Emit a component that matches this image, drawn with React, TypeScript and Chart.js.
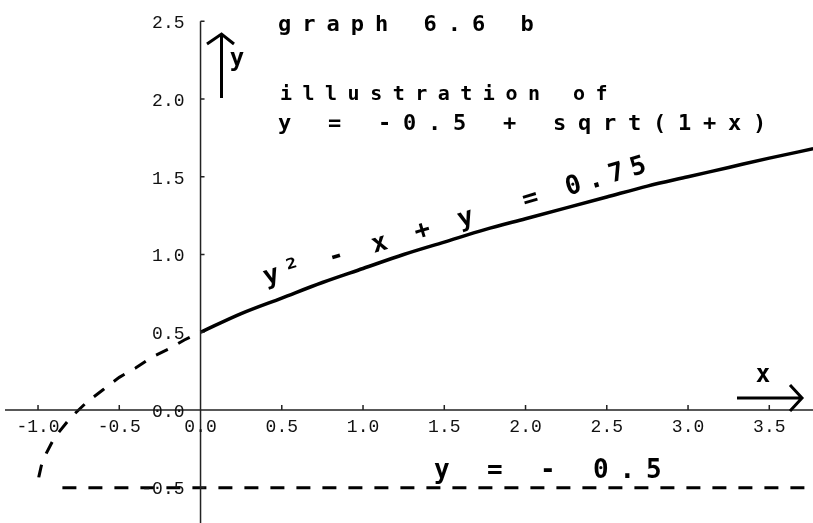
import React, { useEffect, useRef } from "react";
import { Chart, registerables } from "chart.js";

Chart.register(...registerables);

// Upper branch of y^2 - x + y = 0.75, drawn solid for x >= 0
const UPPER_X = [0, 0.25, 0.5, 0.75, 1.0, 1.25, 1.5, 1.75, 2.0, 2.25, 2.5, 2.75, 3.0, 3.25, 3.5, 3.77];
const UPPER_Y = [0.5, 0.62, 0.72, 0.82, 0.91, 1.0, 1.08, 1.16, 1.23, 1.3, 1.37, 1.44, 1.5, 1.56, 1.62, 1.68];

// The same branch continued (dashed) back to the vertex at x = -1
const LOWER_X = [0, -0.1, -0.2, -0.3, -0.4, -0.5, -0.6, -0.7, -0.8, -0.9, -0.95, -0.98, -0.995, -1.0];
const LOWER_Y = [0.5, 0.45, 0.39, 0.34, 0.27, 0.21, 0.13, 0.05, -0.05, -0.18, -0.28, -0.36, -0.43, -0.5];

// Horizontal line y = -0.5
const LEVEL_X = [-0.85, 3.8];
const LEVEL_Y = [-0.5, -0.5];

// Axis ticks
const X_TICKS = [-1.0, -0.5, 0.0, 0.5, 1.0, 1.5, 2.0, 2.5, 3.0, 3.5];
const Y_TICKS = [-0.5, 0.0, 0.5, 1.0, 1.5, 2.0, 2.5];

// Visible window
const X_RANGE = [-1.234, 3.769];
const Y_RANGE = [-0.727, 2.637];

// Text
const TITLE = "graph 6.6 b";
const CAPTION_1 = "illustration of";
const CAPTION_2 = "y = -0.5 + sqrt(1+x)";
const CURVE_LABEL = "y\u00b2 - x + y  = 0.75";
const LEVEL_LABEL = "y = - 0.5";

const MONO = '"DejaVu Sans Mono", "Liberation Mono", monospace';

function toPoints(xs: number[], ys: number[]) {
  return xs.map((x, i) => ({ x, y: ys[i] }));
}

function spacedText(
  ctx: CanvasRenderingContext2D,
  text: string,
  x: number,
  y: number,
  spacing: number
) {
  const c = ctx as any;
  if ("letterSpacing" in c) {
    c.letterSpacing = spacing + "px";
    ctx.fillText(text, x, y);
    c.letterSpacing = "0px";
  } else {
    let cx = x;
    for (const ch of text) {
      ctx.fillText(ch, cx, y);
      cx += ctx.measureText(ch).width + spacing;
    }
  }
}

const axesAndNotes = {
  id: "axesAndNotes",
  afterDatasetsDraw(chart: any) {
    const { ctx, scales } = chart;
    const sx = scales.x;
    const sy = scales.y;
    const x0 = sx.getPixelForValue(0);
    const y0 = sy.getPixelForValue(0);
    const yTop = sy.getPixelForValue(Y_TICKS[Y_TICKS.length - 1]);

    ctx.save();

    // axes through the origin
    ctx.strokeStyle = "#222";
    ctx.lineWidth = 1.5;
    ctx.beginPath();
    ctx.moveTo(sx.left + 5, y0);
    ctx.lineTo(sx.right, y0);
    ctx.moveTo(x0, yTop);
    ctx.lineTo(x0, sy.bottom);
    X_TICKS.forEach((v) => {
      const px = sx.getPixelForValue(v);
      ctx.moveTo(px, y0);
      ctx.lineTo(px, y0 - 5);
    });
    Y_TICKS.forEach((v) => {
      const py = sy.getPixelForValue(v);
      ctx.moveTo(x0, py);
      ctx.lineTo(x0 + 4, py);
    });
    ctx.stroke();

    // tick labels
    ctx.fillStyle = "#111";
    ctx.font = '18px "Liberation Mono", monospace';
    ctx.textBaseline = "middle";
    ctx.textAlign = "center";
    X_TICKS.forEach((v) => {
      ctx.fillText(v.toFixed(1), sx.getPixelForValue(v), y0 + 17);
    });
    ctx.textAlign = "right";
    Y_TICKS.forEach((v) => {
      ctx.fillText(v.toFixed(1), x0 - 16, sy.getPixelForValue(v) + 2);
    });

    // axis arrows
    ctx.strokeStyle = "#000";
    ctx.lineWidth = 3;
    ctx.beginPath();
    ctx.moveTo(221.5, 98);
    ctx.lineTo(221.5, 35);
    ctx.moveTo(207, 44);
    ctx.lineTo(221.5, 34);
    ctx.lineTo(234, 44);
    ctx.moveTo(737, 398);
    ctx.lineTo(802, 398);
    ctx.moveTo(790, 385);
    ctx.lineTo(802, 398);
    ctx.lineTo(790, 411);
    ctx.stroke();

    ctx.fillStyle = "#000";
    ctx.textBaseline = "alphabetic";
    ctx.textAlign = "center";
    ctx.font = "bold 24px " + MONO;
    ctx.fillText("y", 237, 66);
    ctx.fillText("x", 763, 382);

    // title and captions
    ctx.textAlign = "left";
    ctx.font = "bold 22px " + MONO;
    spacedText(ctx, TITLE, 278, 31, 11);
    ctx.font = "bold 20px " + MONO;
    spacedText(ctx, CAPTION_1, 280, 100, 10.5);
    ctx.font = "bold 22px " + MONO;
    spacedText(ctx, CAPTION_2, 278, 130, 11.75);

    // label for the horizontal line
    ctx.font = "bold 26px " + MONO;
    spacedText(ctx, LEVEL_LABEL, 434, 478, 10.85);

    // equation written along the curve
    ctx.save();
    ctx.translate(266, 285);
    ctx.rotate((-16.5 * Math.PI) / 180);
    ctx.font = "bold 26px " + MONO;
    spacedText(ctx, CURVE_LABEL, 0, 0, 6.85);
    ctx.restore();

    ctx.restore();
  },
};

export default function App() {
  const canvasRef = useRef<HTMLCanvasElement | null>(null);

  useEffect(() => {
    const canvas = canvasRef.current;
    if (!canvas) return;
    const chart = new Chart(canvas, {
      type: "scatter",
      data: {
        datasets: [
          {
            data: toPoints(UPPER_X, UPPER_Y),
            showLine: true,
            borderColor: "#000",
            borderWidth: 3.5,
            pointRadius: 0,
            cubicInterpolationMode: "monotone",
          },
          {
            data: toPoints(LOWER_X, LOWER_Y),
            showLine: true,
            borderColor: "#000",
            borderWidth: 3,
            borderDash: [13, 12],
            borderDashOffset: 13,
            pointRadius: 0,
            tension: 0,
          },
          {
            data: toPoints(LEVEL_X, LEVEL_Y),
            showLine: true,
            borderColor: "#000",
            borderWidth: 3,
            borderDash: [14, 12],
            pointRadius: 0,
          },
        ],
      },
      options: {
        responsive: false,
        animation: false,
        events: [],
        layout: { padding: 0 },
        plugins: {
          legend: { display: false },
          tooltip: { enabled: false },
        },
        scales: {
          x: {
            type: "linear",
            min: X_RANGE[0],
            max: X_RANGE[1],
            display: false,
          },
          y: {
            type: "linear",
            min: Y_RANGE[0],
            max: Y_RANGE[1],
            display: false,
          },
        },
      },
      plugins: [axesAndNotes],
    });
    return () => chart.destroy();
  }, []);

  return (
    <div
      style={{
        position: "fixed",
        left: 0,
        top: 0,
        width: 813,
        height: 523,
        background: "#fff",
      }}
    >
      <canvas
        ref={canvasRef}
        width={813}
        height={523}
        style={{ display: "block", width: 813, height: 523 }}
      />
    </div>
  );
}
